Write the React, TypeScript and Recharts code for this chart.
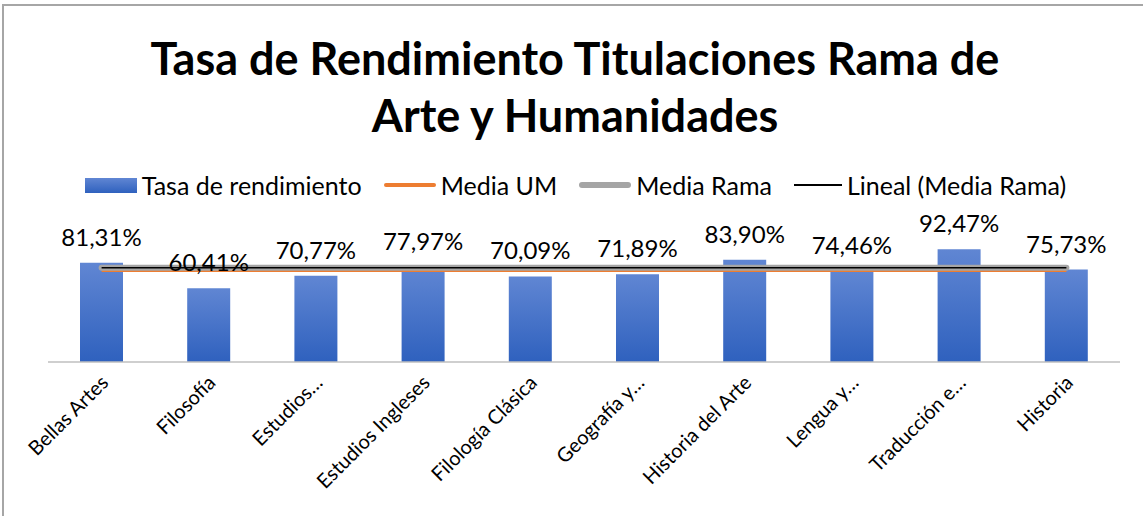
import React from 'react';
import { ComposedChart, Bar, Line, XAxis, YAxis, Legend, LabelList } from 'recharts';

const categories = [
  'Bellas Artes',
  'Filosofía',
  'Estudios…',
  'Estudios Ingleses',
  'Filología Clásica',
  'Geografía y…',
  'Historia del Arte',
  'Lengua y…',
  'Traducción e…',
  'Historia',
];
const tasaRendimiento = [0.8131, 0.6041, 0.7077, 0.7797, 0.7009, 0.7189, 0.839, 0.7446, 0.9247, 0.7573];
const mediaUM = [0.755, 0.755, 0.755, 0.755, 0.755, 0.755, 0.755, 0.755, 0.755, 0.755];
const mediaRama = [0.773, 0.773, 0.773, 0.773, 0.773, 0.773, 0.773, 0.773, 0.773, 0.773];
const linealMediaRama = [0.773, 0.773, 0.773, 0.773, 0.773, 0.773, 0.773, 0.773, 0.773, 0.773];
const titleLines = ['Tasa de Rendimiento Titulaciones Rama de', 'Arte y Humanidades'];
const seriesNames = ['Tasa de rendimiento', 'Media UM', 'Media Rama', 'Lineal (Media Rama)'];

const data = categories.map((name, i) => ({
  name,
  tasa: tasaRendimiento[i],
  um: mediaUM[i],
  rama: mediaRama[i],
  lineal: linealMediaRama[i],
}));

const FONT = 'Lato, "Open Sans", sans-serif';

const fmt = (v: any) => (Number(v) * 100).toFixed(2).replace('.', ',') + '%';

const Tick = (props: any) => {
  const { x, y, payload } = props;
  const ax = x + 3;
  const ay = y + 9;
  return (
    <text
      x={ax}
      y={ay}
      dy="0.35em"
      textAnchor="end"
      transform={`rotate(-45 ${ax} ${ay})`}
      fontFamily={FONT}
      fontSize={20}
      fill="#000"
    >
      {payload.value}
    </text>
  );
};

const LegendContent = () => {
  const item = (swatch: React.ReactNode, label: string) => (
    <div style={{ display: 'flex', alignItems: 'center', marginRight: 22 }}>
      {swatch}
      <span style={{ marginLeft: 5, fontSize: 25, fontFamily: FONT, color: '#000', whiteSpace: 'nowrap' }}>{label}</span>
    </div>
  );
  return (
    <div style={{ display: 'flex', justifyContent: 'center', alignItems: 'center', paddingLeft: 30 }}>
      {item(
        <div style={{ width: 52, height: 15, background: 'linear-gradient(#6086d3, #2f61be)' }} />,
        seriesNames[0]
      )}
      {item(<div style={{ width: 52, height: 4, borderRadius: 2, background: '#ed7d31' }} />, seriesNames[1])}
      {item(<div style={{ width: 52, height: 6, borderRadius: 3, background: '#a5a5a5' }} />, seriesNames[2])}
      {item(<div style={{ width: 48, height: 1.5, background: '#000' }} />, seriesNames[3])}
    </div>
  );
};

export default function App() {
  return (
    <div
      style={{
        position: 'fixed',
        left: 0,
        top: 0,
        width: 1143,
        height: 516,
        overflow: 'hidden',
        background: '#fff',
      }}
    >
      <div
        style={{
          position: 'absolute',
          left: 2,
          top: 4,
          width: 1400,
          height: 800,
          border: '2px solid #a6a6a6',
          boxSizing: 'border-box',
        }}
      />
      <div
        style={{
          position: 'absolute',
          left: 0,
          top: 30,
          width: 1150,
          textAlign: 'center',
          fontFamily: FONT,
          fontWeight: 700,
          fontSize: 45,
          lineHeight: '57px',
          color: '#000',
        }}
      >
        <div>{titleLines[0]}</div>
        <div>{titleLines[1]}</div>
      </div>
      <div style={{ position: 'absolute', left: 0, top: 0 }}>
        <ComposedChart
          width={1143}
          height={516}
          data={data}
          margin={{ top: 240, right: 23, bottom: 0, left: 48 }}
        >
          <defs>
            <linearGradient id="barGrad" x1="0" y1="0" x2="0" y2="1">
              <stop offset="0" stopColor="#6086d3" />
              <stop offset="1" stopColor="#2f61be" />
            </linearGradient>
          </defs>
          <XAxis
            dataKey="name"
            interval={0}
            height={154}
            tickLine={false}
            axisLine={{ stroke: '#bfbfbf', strokeWidth: 1.5 }}
            tick={<Tick />}
          />
          <YAxis hide domain={[0, 1]} />
          <Legend
            layout="horizontal"
            verticalAlign="middle"
            align="center"
            content={<LegendContent />}
            wrapperStyle={{ top: 170, left: 0, width: 1143 }}
          />
          <Bar dataKey="tasa" name={seriesNames[0]} barSize={43} fill="url(#barGrad)" isAnimationActive={false}>
            <LabelList
              dataKey="tasa"
              position="top"
              offset={17}
              formatter={fmt}
              style={{ fontFamily: FONT, fontSize: 24, fill: '#000' }}
            />
          </Bar>
          <Line
            dataKey="um"
            name={seriesNames[1]}
            stroke="#ed7d31"
            strokeWidth={4}
            dot={false}
            activeDot={false}
            isAnimationActive={false}
          />
          <Line
            dataKey="rama"
            name={seriesNames[2]}
            stroke="#a5a5a5"
            strokeWidth={6}
            strokeLinecap="round"
            dot={false}
            activeDot={false}
            isAnimationActive={false}
          />
          <Line
            dataKey="lineal"
            name={seriesNames[3]}
            stroke="#000"
            strokeWidth={1.5}
            dot={false}
            activeDot={false}
            isAnimationActive={false}
          />
        </ComposedChart>
      </div>
    </div>
  );
}
